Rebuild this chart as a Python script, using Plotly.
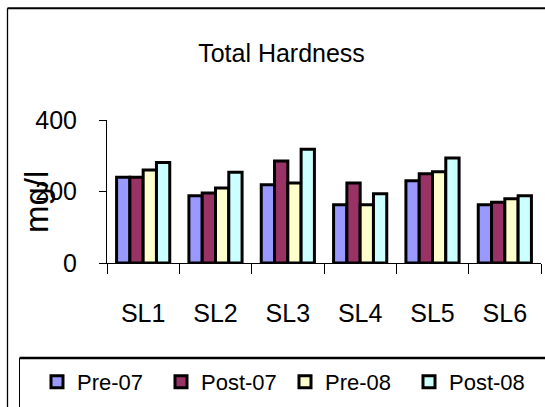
import plotly.graph_objects as go

categories = ["SL1", "SL2", "SL3", "SL4", "SL5", "SL6"]
series_names = ["Pre-07", "Post-07", "Pre-08", "Post-08"]
pre07 = [240, 188, 219, 163, 230, 163]
post07 = [240, 196, 285, 224, 250, 170]
pre08 = [260, 210, 224, 163, 255, 180]
post08 = [281, 254, 318, 194, 294, 188]
colors = ["#9999FF", "#993366", "#FFFFCC", "#CCFFFF"]
y_ticks = [0, 200, 400]

FONT = "Liberation Sans, Arial, sans-serif"

W, H = 545, 407
L, R, T, B = 107, 4, 120, 144
PW, PH = W - L - R, H - T - B


def xp(px):
    return (px - L) / PW


def yp(py):
    return (H - B - py) / PH


fig = go.Figure()
for name, vals, col in zip(series_names, [pre07, post07, pre08, post08], colors):
    fig.add_trace(go.Bar(
        name=name, x=categories, y=vals,
        marker=dict(color=col, line=dict(color="black", width=3)),
    ))

fig.update_layout(
    width=W, height=H,
    margin=dict(l=L, r=R, t=T, b=B, pad=0),
    paper_bgcolor="white", plot_bgcolor="white",
    barmode="group", bargap=0.265, bargroupgap=0,
    font=dict(family=FONT, color="black"),
    title=dict(text="Total Hardness", x=281.5 / W, xref="container", xanchor="center",
               y=1 - 53 / H, yref="container", yanchor="middle",
               font=dict(family=FONT, size=25, color="black")),
    xaxis=dict(showline=True, linecolor="black", linewidth=1, ticks="outside",
               ticklen=10, tickcolor="black", tickwidth=1, tickson="boundaries",
               showgrid=False, tickfont=dict(family=FONT, size=25, color="black"),
               ticklabelstandoff=28),
    yaxis=dict(range=[0, 400], tickvals=y_ticks, showline=True, linecolor="black",
               linewidth=1, ticks="outside", ticklen=7, tickcolor="black", tickwidth=1,
               showgrid=False, zeroline=False,
               tickfont=dict(family=FONT, size=25, color="black"),
               ticklabelstandoff=17),
    legend=dict(orientation="h", x=xp(37), y=yp(382), xanchor="left", yanchor="middle",
                xref="paper", yref="paper", bgcolor="rgba(0,0,0,0)", borderwidth=0,
                font=dict(family=FONT, size=22, color="black"),
                entrywidth=79, entrywidthmode="pixels", traceorder="normal"),
    showlegend=True,
    annotations=[dict(text="mg/l", textangle=-90, x=xp(36), y=yp(202),
                      xref="paper", yref="paper", showarrow=False,
                      xanchor="center", yanchor="middle",
                      font=dict(family=FONT, size=33, color="black"))],
    shapes=[
        dict(type="line", xref="paper", yref="paper", x0=xp(7.5), x1=xp(600),
             y0=yp(8.3), y1=yp(8.3), line=dict(color="black", width=2)),
        dict(type="line", xref="paper", yref="paper", x0=xp(7.5), x1=xp(7.5),
             y0=yp(8.3), y1=yp(440), line=dict(color="black", width=1.3)),
        dict(type="line", xref="paper", yref="paper", x0=xp(19.5), x1=xp(600),
             y0=yp(358), y1=yp(358), line=dict(color="black", width=2.7)),
        dict(type="line", xref="paper", yref="paper", x0=xp(19.5), x1=xp(19.5),
             y0=yp(358), y1=yp(440), line=dict(color="black", width=1)),
    ],
)

fig.write_html("out.html", config={"displayModeBar": False},
               post_script="document.body.style.margin='0';document.body.style.overflow='hidden';")
